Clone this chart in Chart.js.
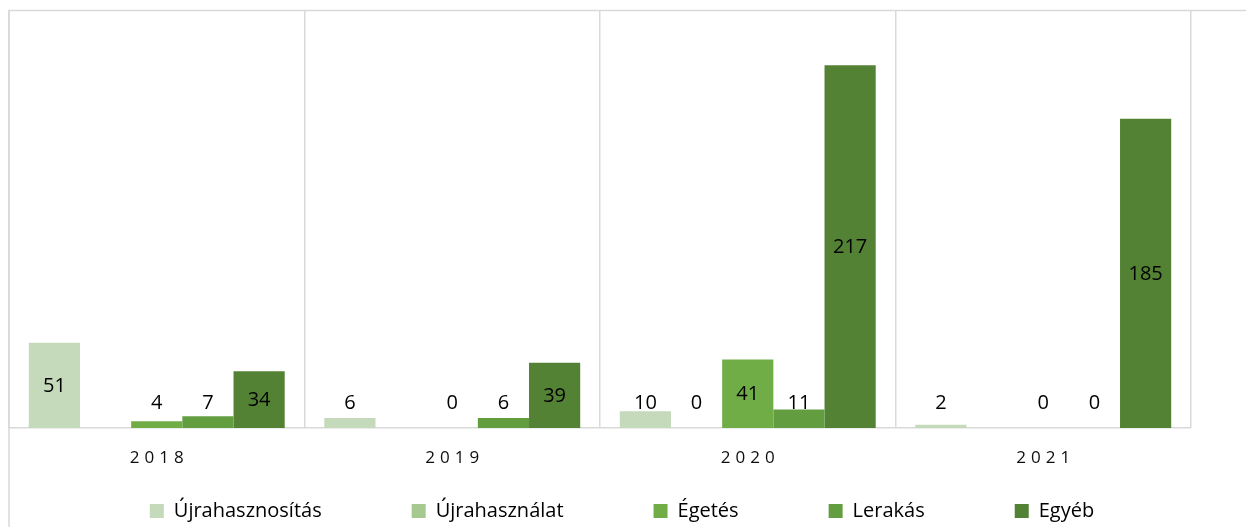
<!DOCTYPE html>
<html lang="hu">
<head>
<meta charset="utf-8">
<title>Hulladékkezelés</title>
<script src="https://cdn.jsdelivr.net/npm/chart.js@4/dist/chart.umd.min.js"></script>
<style>
  html, body { margin: 0; padding: 0; background: #ffffff; }
  #wrap { width: 1246px; height: 527px; position: relative; }
</style>
</head>
<body>
<div id="wrap"><canvas id="chart" width="1246" height="527"></canvas></div>
<script>
// Years on the category axis
const years = ['2018', '2019', '2020', '2021'];

// One array per treatment route (null = no value reported)
const ujrahasznositas = [51, 6, 10, 2];
const ujrahasznalat   = [null, null, 0, null];
const egetes          = [4, 0, 41, 0];
const lerakas         = [7, 6, 11, 0];
const egyeb           = [34, 39, 217, 185];

const seriesNames = ['Újrahasznosítás', 'Újrahasználat', 'Égetés', 'Lerakás', 'Egyéb'];
const seriesColors = ['#c5d9bb', '#a6c98f', '#70ad47', '#629d40', '#548235'];
const seriesValues = [ujrahasznositas, ujrahasznalat, egetes, lerakas, egyeb];

const FONT = "'Open Sans', 'DejaVu Sans', sans-serif";
const LEGEND_PAD = 90;
const TICK_SPACING = 5;

// Thin frame along the top and left edges of the chart
const framePlugin = {
  id: 'frame',
  beforeDraw(chart) {
    const ctx = chart.ctx;
    ctx.save();
    ctx.strokeStyle = '#d9d9d9';
    ctx.lineWidth = 1.5;
    ctx.beginPath();
    ctx.moveTo(8, 10.5);
    ctx.lineTo(chart.width, 10.5);
    ctx.moveTo(9, 10);
    ctx.lineTo(9, chart.height);
    ctx.stroke();
    ctx.restore();
  }
};

// Spaced-out year labels and legend row placement
const layoutTweaks = {
  id: 'layoutTweaks',
  afterLayout(chart) {
    const xs = chart.scales.x;
    if (xs && !xs._spaced) {
      const orig = xs.drawLabels;
      xs.drawLabels = function (area) {
        const ctx = this.ctx;
        ctx.save();
        ctx.letterSpacing = TICK_SPACING + 'px';
        ctx.translate(TICK_SPACING / 2, 0);
        orig.call(this, area);
        ctx.restore();
      };
      xs._spaced = true;
    }
    if (chart.legend) {
      chart.legend.top = 501 - LEGEND_PAD;
      chart.legend.left += 22;
      chart.legend.right += 22;
    }
  }
};

// Value labels: centred in tall bars, above short ones
const valueLabels = {
  id: 'valueLabels',
  afterDatasetsDraw(chart) {
    const ctx = chart.ctx;
    ctx.save();
    ctx.font = '20px ' + FONT;
    ctx.fillStyle = '#000000';
    ctx.textAlign = 'center';
    ctx.textBaseline = 'middle';
    chart.data.datasets.forEach((ds, di) => {
      const meta = chart.getDatasetMeta(di);
      meta.data.forEach((bar, i) => {
        const v = ds.data[i];
        if (v === null || v === undefined) return;
        const h = Math.abs(bar.base - bar.y);
        const y = h >= 40 ? (bar.y + bar.base) / 2 : bar.base - 26;
        ctx.fillText(String(v), bar.x, y + 1);
      });
    });
    ctx.restore();
  }
};

new Chart(document.getElementById('chart'), {
  type: 'bar',
  data: {
    labels: years,
    datasets: seriesNames.map((name, k) => ({
      label: name,
      data: seriesValues[k],
      backgroundColor: seriesColors[k],
      borderWidth: 0,
      categoryPercentage: 0.866,
      barPercentage: 1
    }))
  },
  options: {
    responsive: false,
    animation: false,
    devicePixelRatio: 1,
    layout: { padding: { left: 9, top: 10, right: 55, bottom: 0 } },
    scales: {
      x: {
        grid: { color: '#d9d9d9', lineWidth: 1.5, offset: true, drawTicks: false },
        border: { color: '#d9d9d9', width: 1.5 },
        ticks: {
          color: '#0d0d0d',
          font: { family: FONT, size: 17 },
          padding: 20,
          maxRotation: 0
        },
        afterFit(scale) { scale.height = 50; }
      },
      y: {
        display: false,
        min: 0,
        max: 250
      }
    },
    plugins: {
      legend: {
        position: 'bottom',
        align: 'center',
        maxHeight: 49,
        labels: {
          boxWidth: 14,
          boxHeight: 14,
          padding: LEGEND_PAD,
          color: '#000000',
          font: { family: FONT, size: 20 }
        }
      },
      tooltip: { enabled: false }
    }
  },
  plugins: [framePlugin, layoutTweaks, valueLabels]
});
</script>
</body>
</html>
